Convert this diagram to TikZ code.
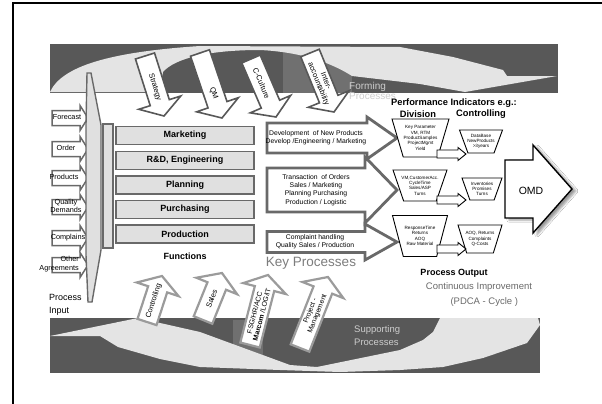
\documentclass[tikz,border=0pt]{standalone}
\usepackage{fontspec}
\setmainfont{Liberation Sans}
\usetikzlibrary{calc,shapes.geometric,shadows.blur}
\definecolor{banddark}{RGB}{88,88,88}
\definecolor{bandmid}{RGB}{112,112,112}
\definecolor{bandlight}{RGB}{228,228,228}
\definecolor{edgegray}{RGB}{105,105,105}
\definecolor{boxgray}{RGB}{224,224,224}
\definecolor{softgray}{RGB}{155,155,155}
\definecolor{txtgray}{RGB}{125,125,125}
\definecolor{bandtxt}{RGB}{205,205,205}
% block arrow: [style]{tail}{tip}{body half width}{head half width}{head length}
\newcommand{\fatarrow}[6][]{%
  \coordinate (neck) at ($(#3)!#6!(#2)$);
  \draw[#1] ($(#2)!#4!90:(#3)$) -- ($(neck)!#4!90:(#3)$) -- ($(neck)!#5!90:(#3)$) -- (#3)
    -- ($(neck)!#5!-90:(#3)$) -- ($(neck)!#4!-90:(#3)$) -- ($(#2)!#4!-90:(#3)$) -- cycle;}

\begin{document}
\begin{tikzpicture}[x=1pt, y=-1pt,
    funcbox/.style={rectangle, draw=edgegray, line width=1.8pt, fill=boxgray, minimum width=138pt, minimum height=18pt, inner sep=0pt, font=\fontsize{9}{10}\selectfont\bfseries},
    inarrow/.style={draw=edgegray, line width=1.5pt, fill=white},
    toparrow/.style={draw=banddark, line width=1.6pt, fill=white},
    botarrow/.style={draw=softgray, line width=2.2pt, fill=white},
    keyarrow/.style={draw=edgegray, line width=2.8pt, fill=white},
    minarrow/.style={draw=black, line width=0.9pt, fill=white},
    omdarrow/.style={draw=black, line width=1.4pt, fill=white, blur shadow={shadow xshift=4pt, shadow yshift=-2pt}},
    kpi/.style={trapezium, shape border rotate=180, trapezium stretches=true, trapezium angle=72, draw, line width=0.9pt, fill=white, inner sep=1pt},
    kpitxt/.style={align=center, inner sep=0pt, font=\fontsize{4.6}{5.3}\selectfont},
    arrtxt/.style={align=center, inner sep=0pt, font=\fontsize{7.5}{8}\selectfont},
    intxt/.style={align=center, inner sep=0pt, font=\fontsize{7.3}{8.3}\selectfont},
    kptxt/.style={align=center, inner sep=0pt, font=\fontsize{6.8}{8.2}\selectfont},
    headtxt/.style={inner sep=0pt, font=\fontsize{9.3}{10}\selectfont\bfseries}
  ]
  \useasboundingbox (0,0) rectangle (602,404);
  \fill[white] (0,0) rectangle (602,404);
  \draw[line width=2pt] (13,404) -- (13,3) -- (602,3);

  % forming processes band
  \fill[banddark] (50,44) rectangle (558,93);
  \fill[bandmid] (283,50) rectangle (352,93);
  \fill[bandlight] (50,92) .. controls (62,66) and (110,52) .. (200,46) -- (400,47) -- (453,57)
    -- (503,70) -- (507,76) -- (557,76) -- (465,92) -- (420,84) -- (352,76)
    .. controls (330,62) and (300,52) .. (260,50) .. controls (210,50) and (175,58) .. (163,72)
    -- (160,92) -- cycle;
  \node[anchor=west, align=left, inner sep=0pt, text=bandtxt, font=\fontsize{10}{10.5}\selectfont] (forming) at (349,91) {Forming\\Processes};

  % supporting processes band
  \fill[banddark] (50,318) rectangle (540,373);
  \fill[bandmid] (233,320) rectangle (263,357);
  \fill[bandlight] (50,336) -- (138,318) -- (200,332) -- (290,365) -- (317,367) -- (400,350)
    -- (423,340) -- (433,332) -- (440,318) -- (538,318) -- (540,325) -- (527,343) -- (483,358)
    -- (443,367) -- (400,370) -- (340,372) -- (280,370) -- (200,367) -- (160,359) -- (118,347)
    -- (100,336) -- cycle;
  \node[anchor=west, align=left, inner sep=0pt, text=bandtxt, font=\fontsize{9.5}{13}\selectfont] (supporting) at (354,336) {Supporting\\Processes};

  % forming arrows
  \coordinate (strat-t) at (145,56);  \coordinate (strat-h) at (164,116);
  \coordinate (qm-t) at (200,53);     \coordinate (qm-h) at (222,118);
  \coordinate (cult-t) at (251,59);   \coordinate (cult-h) at (276,117);
  \coordinate (inter-t) at (310,53);  \coordinate (inter-h) at (334,112);
  \foreach \nm in {strat,qm,cult,inter}
    \fatarrow[toparrow]{\nm-t}{\nm-h}{10pt}{22pt}{14pt};
  \path (strat-t) -- (strat-h) node[pos=0.52, sloped, arrtxt] (strat) {Strategy};
  \path (qm-t) -- (qm-h) node[pos=0.62, sloped, arrtxt] (qm) {QM};
  \path (cult-t) -- (cult-h) node[pos=0.42, sloped, arrtxt] (cult) {C-Culture};
  \path (inter-t) -- (inter-h) node[pos=0.5, sloped, arrtxt] (inter) {Inter-\\accountability};

  % supporting arrows
  \coordinate (ctrl-t) at (147,322);  \coordinate (ctrl-h) at (162,276);
  \coordinate (sales-t) at (203,320); \coordinate (sales-h) at (222,273);
  \coordinate (fsg-t) at (250,345);   \coordinate (fsg-h) at (268,275);
  \coordinate (proj-t) at (300,348);  \coordinate (proj-h) at (328,277);
  \foreach \nm in {ctrl,sales,fsg,proj}
    \fatarrow[botarrow]{\nm-t}{\nm-h}{10pt}{22pt}{14pt};
  \path (ctrl-t) -- (ctrl-h) node[pos=0.45, sloped, arrtxt] (ctrl) {Controlling};
  \path (sales-t) -- (sales-h) node[pos=0.45, sloped, arrtxt] (sales) {Sales};
  \path (fsg-t) -- (fsg-h) node[pos=0.45, sloped, arrtxt, font=\fontsize{7}{7.5}\selectfont] (fsg) {FSG/HR/ACC\\\textbf{Marcom} /LOG/IT};
  \path (proj-t) -- (proj-h) node[pos=0.5, sloped, arrtxt, font=\fontsize{7}{7.5}\selectfont] (proj) {Project -\\Management};

  % process input
  \foreach \yy/\nm in {118/fc,149/ord,178/prod,207/qual,238/compl,265/other}{
    \coordinate (\nm-t) at (52,\yy); \coordinate (\nm-h) at (88,\yy);
    \fatarrow[inarrow]{\nm-t}{\nm-h}{7.5pt}{12.5pt}{8pt}
  }
  \node[intxt] (fc) at (67,117) {Forecast};
  \node[intxt] (ord) at (66,148) {Order};
  \node[intxt] (prod) at (64,177) {Products};
  \node[intxt] (qual) at (66,206) {Quality\\Demands};
  \node[intxt] (compl) at (68,238) {Complains};
  \node[intxt, anchor=east, align=right] (other) at (79,264) {Other\\Agreements};
  \node[anchor=west, align=left, inner sep=0pt, font=\fontsize{9}{13}\selectfont] (input) at (49,305) {Process\\Input};

  % collector
  \draw[draw=edgegray, line width=1.4pt, fill=boxgray] (87,73) -- (91,73) -- (101,125) -- (101,250)
    -- (92,302) -- (88,302) -- (86,255) -- (86,125) -- cycle;
  \draw[draw=edgegray, line width=1.4pt, fill=boxgray] (103,124) rectangle (113,248);

  % functions
  \node[funcbox] (mkt) at (185,135.5) {Marketing};
  \node[funcbox] (rnd) at (185,160.5) {R\&D, Engineering};
  \node[funcbox] (plan) at (185,185) {Planning};
  \node[funcbox] (purch) at (185,209.5) {Purchasing};
  \node[funcbox] (prodn) at (185,234) {Production};
  \node[headtxt, font=\fontsize{9}{10}\selectfont\bfseries] (func) at (185,256) {Functions};

  % key processes
  \coordinate (dev-t) at (267,138);   \coordinate (dev-h) at (397,138);
  \coordinate (trans-t) at (267,190); \coordinate (trans-h) at (397,190);
  \coordinate (cmpl-t) at (267,242);  \coordinate (cmpl-h) at (397,242);
  \fatarrow[keyarrow]{dev-t}{dev-h}{15pt}{21pt}{30pt}
  \fatarrow[keyarrow]{trans-t}{trans-h}{22pt}{33pt}{32pt}
  \fatarrow[keyarrow]{cmpl-t}{cmpl-h}{10.5pt}{18pt}{32pt}
  \node[kptxt] (dev) at (316,138) {Development\ \ of New Products\\Develop /Engineering / Marketing};
  \node[kptxt] (trans) at (316,190) {Transaction\ \ of Orders\\Sales / Marketing\\Planning Purchasing\\Production / Logistic};
  \node[kptxt] (cmpl) at (315,242) {Complaint handling\\Quality Sales / Production};
  \node[inner sep=0pt, text=txtgray, font=\fontsize{13.5}{14}\selectfont] (keyproc) at (311,263) {Key Processes};

  % performance indicators
  \node[headtxt] (perf) at (454,103) {Performance Indicators e.g.:};
  \node[headtxt] (divi) at (418,114) {Division};
  \node[headtxt] (ctrlg) at (481,114) {Controlling};
  \node[kpi, minimum width=57pt, minimum height=38pt] (t1) at (420.5,138) {};
  \node[kpi, minimum width=54pt, minimum height=31pt] (t2) at (420,185.5) {};
  \node[kpi, minimum width=55pt, minimum height=41pt] (t3) at (420,236) {};
  \node[kpi, minimum width=43pt, minimum height=23pt] (c1) at (481,141.5) {};
  \node[kpi, minimum width=40pt, minimum height=22pt] (c2) at (482,189) {};
  \node[kpi, minimum width=44pt, minimum height=28pt] (c3) at (480,239) {};
  \node[kpitxt] at (t1) {Key Parameter\\VM, RTM\\ProductSamples\\ProjectMgmt\\Yield};
  \node[kpitxt] at (t2) {VM,CustomerAcc.\\CycleTime\\Sales/ASP\\Turns};
  \node[kpitxt] at (t3) {ResponseTime\\Returns\\AOQ\\Raw Material};
  \node[kpitxt] at (c1) {DataBase\\NewProducts\\>3years};
  \node[kpitxt] at (c2) {Inventories\\Promises\\Turns};
  \node[kpitxt] at (c3) {AOQ, Returns\\Complaints\\Q-Costs};
  \foreach \yy/\nm in {154/a1,200/a2,249/a3}{
    \coordinate (\nm-t) at (437,\yy); \coordinate (\nm-h) at (466,\yy);
    \fatarrow[minarrow]{\nm-t}{\nm-h}{4pt}{6.5pt}{8pt}
  }

  % output
  \coordinate (omd-t) at (505,189); \coordinate (omd-h) at (572,189);
  \fatarrow[omdarrow]{omd-t}{omd-h}{29pt}{44pt}{39pt}
  \node[inner sep=0pt, font=\fontsize{10.5}{12}\selectfont] (omd) at (531,191) {OMD};
  \node[headtxt, font=\fontsize{9}{10}\selectfont\bfseries] (output) at (454,273) {Process Output};
  \node[inner sep=0pt, text=txtgray!85!black, align=center, font=\fontsize{9.5}{15}\selectfont] (pdca) at (479,295) {Continuous Improvement\\\ \ \ \ (PDCA - Cycle )};
\end{tikzpicture}
\end{document}
